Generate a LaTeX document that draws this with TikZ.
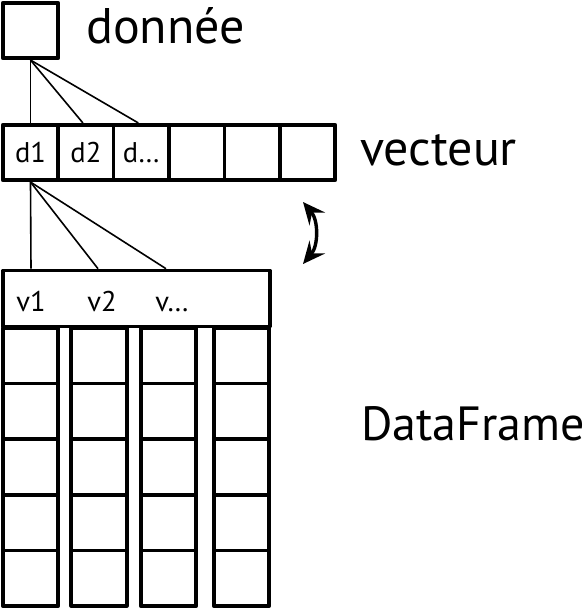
\documentclass[tikz,border=0pt]{standalone}
\usepackage{fontspec}
\setmainfont{PT Sans}
\usetikzlibrary{positioning,arrows.meta}
\tikzset{
  cell/.style={draw, line width=3.6pt, minimum size=55.5pt, inner sep=0pt, font=\fontsize{28.5}{28.5}\selectfont},
  grand/.style={anchor=base west, inner sep=0pt, font=\fontsize{50}{50}\selectfont},
  petit/.style={anchor=base, inner sep=0pt, font=\fontsize{28.5}{28.5}\selectfont},
  fil/.style={line width=1.6pt},
  pointe/.tip={Stealth[length=22pt,width=20pt,inset=8pt]}
}
\begin{document}
\begin{tikzpicture}[x=1pt, y=-1pt, line join=round]
\useasboundingbox (0,0) rectangle (587,608);
% la donnee
\node[cell] (donnee) at (30.5,30.5) {};
\node[grand] (tdonnee) at (86,43) {donnée};
% le vecteur
\foreach \i/\t in {0/d1, 1/d2, 2/{d…}, 3/, 4/, 5/}
  \node[cell] (d\i) at (30.5+55.4*\i,152.5) {\t};
\node[grand] (tvecteur) at (360,165) {vecteur};
\draw[fil] (donnee.south) -- (d0.north);
\draw[fil] (donnee.south) -- ([xshift=-3pt]d1.north);
\draw[fil] (donnee.south) -- ([xshift=-3pt]d2.north);
% le dataframe
\node[cell, minimum width=267pt, minimum height=56pt] (entete) at (136.5,298.5) {};
\node[petit] (v1) at (31,311) {v1};
\node[petit] (v2) at (102,311) {v2};
\node[petit] (v3) at (172,311) {v…};
\draw[fil] (d0.south) -- (v1 |- entete.north);
\draw[fil] (d0.south) -- ([xshift=-4pt]v2 |- entete.north);
\draw[fil] (d0.south) -- ([xshift=-6pt]v3 |- entete.north);
\foreach \c/\x in {1/30.5, 2/99, 3/168.5, 4/241.5}
  \foreach \r in {1,...,5}
    \node[cell] (c\c\r) at (\x,300.2+55.6*\r) {};
\node[grand, font=\fontsize{48}{48}\selectfont] (tdf) at (361,440) {DataFrame};
% passage vecteur <-> dataframe
\coordinate (haut) at (303,202);
\coordinate (bas) at (303,264);
\draw[pointe-pointe, line width=3.4pt] (haut) to[bend left=40] (bas);
\end{tikzpicture}
\end{document}
